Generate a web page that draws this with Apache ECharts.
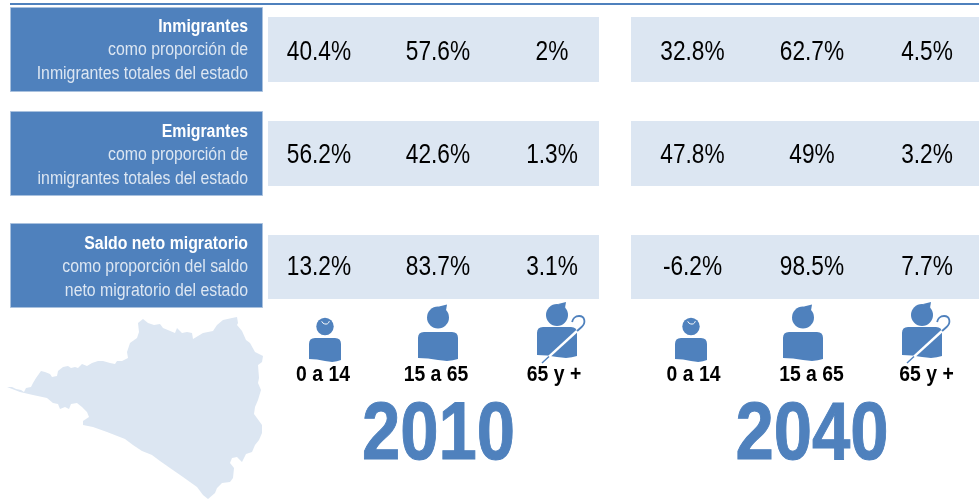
<!DOCTYPE html>
<html>
<head>
<meta charset="utf-8">
<style>html,body{margin:0;padding:0;background:#fff}#chart{width:979px;height:499px}</style>
<script src="https://cdn.jsdelivr.net/npm/echarts@6/dist/echarts.min.js"></script>
</head>
<body>
<div id="chart"></div>
<script>
// grupos de edad y años
const ageGroups = ['0 a 14', '15 a 65', '65 y +'];
const years = ['2010', '2040'];

// valores (%)
const inmigrantes2010 = [40.4, 57.6, 2];
const inmigrantes2040 = [32.8, 62.7, 4.5];
const emigrantes2010 = [56.2, 42.6, 1.3];
const emigrantes2040 = [47.8, 49, 3.2];
const saldo2010 = [13.2, 83.7, 3.1];
const saldo2040 = [-6.2, 98.5, 7.7];

// titulos de las filas
const rowTitles = ['Inmigrantes', 'Emigrantes', 'Saldo neto migratorio'];
const rowLines = [
  ['como proporción de', 'Inmigrantes totales del estado'],
  ['como proporción de', 'inmigrantes totales del estado'],
  ['como proporción del saldo', 'neto migratorio del estado'],
];

const BLUE = '#4f81bd';
const PALE = '#dce6f2';
const FONT = '"Liberation Sans", Arial, sans-serif';

// silueta del estado, pixeles de la imagen
const stateOutline = [[7,387],[12,387],[16,389],[21,390],[24,392],[26,388],[31,387],[33,383],[36,378],[41,371],[45,372],[50,374],[52,377],[57,376],[58,371],[63,367],[68,366],[71,368],[75,367],[78,368],[82,364],[87,366],[92,363],[98,361],[103,361],[110,363],[115,364],[117,361],[122,361],[128,358],[127,352],[130,343],[137,338],[139,332],[138,323],[143,319],[148,323],[154,325],[160,324],[163,328],[175,333],[177,328],[182,333],[187,332],[192,333],[193,339],[203,333],[213,331],[217,325],[223,320],[232,318],[237,317],[238,323],[237,325],[242,331],[246,340],[250,343],[255,352],[263,356],[262,362],[258,365],[259,378],[258,383],[261,390],[258,400],[255,407],[254,414],[262,425],[262,433],[259,440],[255,445],[252,452],[246,454],[242,462],[237,457],[232,458],[230,463],[234,468],[233,478],[230,482],[222,483],[217,488],[215,493],[208,499],[203,495],[197,487],[183,477],[170,468],[160,461],[152,455],[142,451],[133,445],[125,439],[107,432],[93,427],[83,425],[83,421],[89,417],[87,412],[82,407],[77,403],[71,404],[69,409],[65,407],[60,409],[58,404],[53,403],[47,398],[33,395],[20,392]];

// filas: posicion de cada banda y su caja de titulo
const rowBands = [
  { top: 17, height: 65, boxTop: 7, boxHeight: 85, textY: 27, valueDy: 3 },
  { top: 121, height: 65, boxTop: 111, boxHeight: 85, textY: 132, valueDy: 2 },
  { top: 235, height: 64, boxTop: 223, boxHeight: 85, textY: 244, valueDy: 0.5 },
];
const yearBlocks = [
  { left: 262, width: 351, bandLeft: 268, bandWidth: 331, yearX: 438.5,
    rows: [inmigrantes2010, emigrantes2010, saldo2010],
    valueNudge: [-1.5, 0.5, -2.5], iconNudge: [4.5, 0.5, 2.5], labelNudge: [2.5, -1.5, -0.5] },
  { left: 631, width: 348, bandLeft: 631, bandWidth: 348, yearX: 812,
    rows: [inmigrantes2040, emigrantes2040, saldo2040],
    valueNudge: [3.5, 7, 6], iconNudge: [2, -2, 1], labelNudge: [4.5, 6.5, 5.5] },
];

const grids = [], xAxes = [], yAxes = [], series = [];

function addGrid(top, height, left, width) {
  const idx = grids.length;
  grids.push({ left: left, width: width, top: top, height: height, show: false });
  xAxes.push({ type: 'category', gridIndex: idx, data: ageGroups, show: false });
  yAxes.push({ type: 'category', gridIndex: idx, data: ['v'], show: false });
  return idx;
}

// no hay Arial Narrow: texto comprimido a lo ancho
function narrowText(x, y, text, align, scaleX, style) {
  return {
    type: 'text',
    x: x,
    y: y,
    scaleX: scaleX,
    style: Object.assign({ x: 0, y: 0, text: text, align: align, verticalAlign: 'middle', fontFamily: FONT }, style),
  };
}

// cuerpo con base ondulada
function bodyPath(cx, w, y0, y1) {
  const x0 = cx - w / 2, x1 = cx + w / 2, r = 6;
  return 'M' + x0 + ' ' + (y0 + r) + 'Q' + x0 + ' ' + y0 + ' ' + (x0 + r) + ' ' + y0 +
    'L' + (x1 - r) + ' ' + y0 + 'Q' + x1 + ' ' + y0 + ' ' + x1 + ' ' + (y0 + r) +
    'L' + x1 + ' ' + (y1 - 1) + 'Q' + (cx + w * 0.3) + ' ' + (y1 + 2) + ' ' + cx + ' ' + y1 +
    'Q' + (cx - w * 0.25) + ' ' + (y1 - 2) + ' ' + x0 + ' ' + (y1 - 2) + 'Z';
}

function personIcon(i, cx, cy) {
  const s = [
    { r: 8.7, head: -18.5, w: 32, top: -7, bottom: 16 },
    { r: 11, head: -27.5, w: 40, top: -13, bottom: 15 },
    { r: 11, head: -30, w: 40, top: -18, bottom: 12 },
  ][i];
  const items = [
    { type: 'circle', shape: { cx: cx, cy: cy + s.head, r: s.r }, style: { fill: BLUE } },
    { type: 'path', shape: { pathData: bodyPath(cx, s.w, cy + s.top, cy + s.bottom), layout: 'center',
        x: cx - s.w / 2, y: cy + s.top, width: s.w, height: s.bottom - s.top + 1 }, style: { fill: BLUE } },
  ];
  if (i === 0) {
    items.push({ type: 'arc', shape: { cx: cx + 0.5, cy: cy + s.head - 6.5, r: 4, startAngle: 0.3, endAngle: 2.8 },
      style: { stroke: '#fff', fill: null, lineWidth: 1 } });
  } else {
    items.push({ type: 'polygon', shape: { points: [[cx + 1, cy + s.head - 11], [cx + 9, cy + s.head - 13], [cx + 8, cy + s.head - 7]] },
      style: { fill: BLUE } });
  }
  if (i === 2) {
    // baston
    items.push({ type: 'line', shape: { x1: cx - 8, y1: cy + 11.6, x2: cx + 20, y2: cy - 14 },
      style: { stroke: '#fff', lineWidth: 2.4 } });
    items.push({ type: 'line', shape: { x1: cx - 15, y1: cy + 18, x2: cx - 8, y2: cy + 11.6 },
      style: { stroke: BLUE, lineWidth: 1.4 } });
    items.push({ type: 'path', shape: { pathData: 'M' + (cx + 20) + ' ' + (cy - 14) + 'L' + (cx + 24.5) + ' ' + (cy - 18) + 'C' + (cx + 29) + ' ' + (cy - 22) + ' ' + (cx + 28) + ' ' + (cy - 29) + ' ' + (cx + 22) + ' ' + (cy - 29) + 'C' + (cx + 18) + ' ' + (cy - 29) + ' ' + (cx + 15.5) + ' ' + (cy - 26) + ' ' + (cx + 15) + ' ' + (cy - 23),
        layout: 'center', x: cx + 15, y: cy - 29, width: 12.5, height: 15 },
      style: { stroke: BLUE, fill: null, lineWidth: 1.8 } });
  }
  return items;
}

yearBlocks.forEach(function (block) {
  block.rows.forEach(function (values, r) {
    const idx = addGrid(rowBands[r].top, rowBands[r].height, block.left, block.width);
    series.push({
      type: 'custom',
      xAxisIndex: idx,
      yAxisIndex: idx,
      silent: true,
      data: values.map(function (v, i) { return [i, 0, v]; }),
      renderItem: function (params, api) {
        const i = api.value(0);
        const c = api.coord([i, 0]);
        return narrowText(c[0] + block.valueNudge[i], c[1] + rowBands[r].valueDy, api.value(2) + '%', 'center', 0.84, {
          fill: '#000', fontSize: 27,
        });
      },
    });
  });
  // iconos por grupo de edad
  const iconGrid = addGrid(300, 90, block.left, block.width);
  series.push({
    type: 'custom',
    xAxisIndex: iconGrid,
    yAxisIndex: iconGrid,
    silent: true,
    data: ageGroups.map(function (g, i) { return [i, 0]; }),
    renderItem: function (params, api) {
      const i = api.value(0);
      const c = api.coord([i, 0]);
      const children = personIcon(i, c[0] + block.iconNudge[i], c[1]);
      children.push(narrowText(c[0] + block.labelNudge[i], c[1] + 30, ageGroups[i], 'center', 0.88, {
        fill: '#000', fontSize: 22, fontWeight: 'bold',
      }));
      return { type: 'group', children: children };
    },
  });
});

const graphics = [
  { type: 'rect', shape: { x: 10, y: 3, width: 969, height: 2 }, style: { fill: BLUE } },
  { type: 'polygon', shape: { points: stateOutline }, style: { fill: PALE } },
];
rowBands.forEach(function (row, r) {
  graphics.push({ type: 'rect', shape: { x: 10.5, y: row.boxTop + 0.5, width: 252, height: row.boxHeight - 1 },
    style: { fill: BLUE, stroke: '#a9c1de', lineWidth: 1 } });
  graphics.push(narrowText(248, row.textY, rowTitles[r], 'right', 0.88, { fill: '#fff', fontSize: 18, fontWeight: 'bold' }));
  rowLines[r].forEach(function (line, k) {
    graphics.push(narrowText(248, row.textY + 23.5 * (k + 1), line, 'right', 0.88, { fill: PALE, fontSize: 18 }));
  });
  yearBlocks.forEach(function (block) {
    graphics.push({ type: 'rect', shape: { x: block.bandLeft, y: row.top, width: block.bandWidth, height: row.height }, style: { fill: PALE } });
  });
});
yearBlocks.forEach(function (block, y) {
  graphics.push(narrowText(block.yearX, 436, years[y], 'center', 0.84, {
    fill: BLUE, fontSize: 82, fontWeight: 'bold', stroke: BLUE, lineWidth: 1,
  }));
});

const myChart = echarts.init(document.getElementById('chart'), null, { renderer: 'canvas' });
myChart.setOption({
  animation: false,
  backgroundColor: '#fff',
  graphic: { elements: graphics },
  grid: grids,
  xAxis: xAxes,
  yAxis: yAxes,
  series: series,
});
</script>
</body>
</html>
